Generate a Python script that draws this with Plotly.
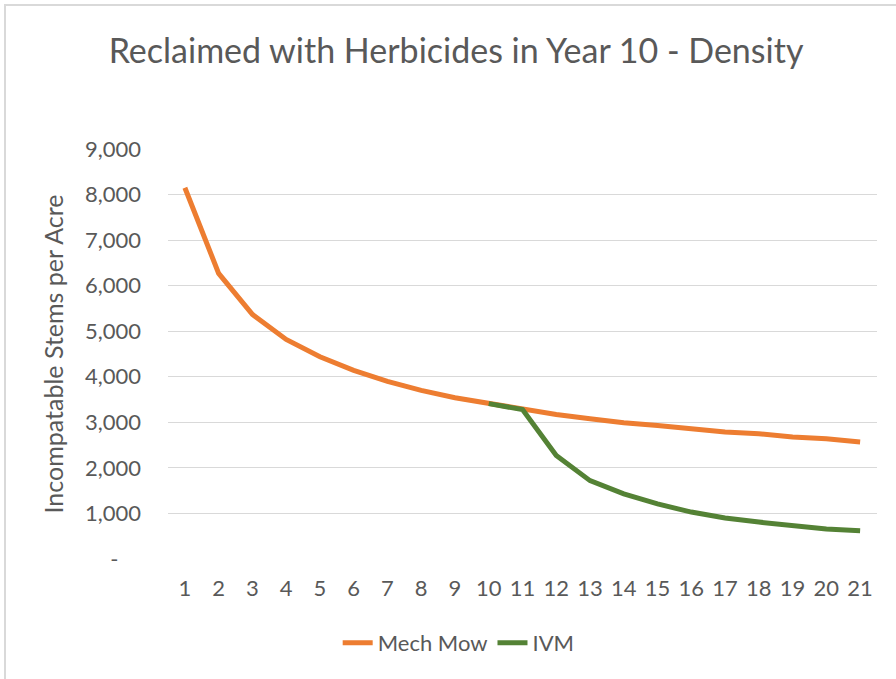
import plotly.graph_objects as go

years = list(range(1, 22))
mech_mow = [8150, 6270, 5370, 4820, 4440, 4140, 3900, 3700, 3540, 3410, 3280,
            3170, 3080, 2990, 2930, 2860, 2790, 2750, 2680, 2640, 2570]
ivm_years = list(range(10, 22))
ivm = [3410, 3280, 2270, 1720, 1430, 1210, 1030, 900, 810, 730, 660, 620]
y_ticks = [0, 1000, 2000, 3000, 4000, 5000, 6000, 7000, 8000, 9000]
y_tick_labels = ["-\u00a0\u00a0\u00a0\u00a0", "1,000", "2,000", "3,000", "4,000", "5,000",
                 "6,000", "7,000", "8,000", "9,000"]

FONT = "Lato"
GRAY = "#595959"

fig = go.Figure()
fig.add_trace(go.Scatter(x=years, y=mech_mow, mode="lines", name="Mech Mow",
                         line=dict(color="#ED7D31", width=5)))
fig.add_trace(go.Scatter(x=ivm_years, y=ivm, mode="lines", name="IVM",
                         line=dict(color="#548235", width=5)))

fig.update_layout(
    width=896, height=679,
    paper_bgcolor="white", plot_bgcolor="white",
    margin=dict(l=168, r=19, t=149, b=120, autoexpand=False),
    title=dict(text="Reclaimed with Herbicides in Year 10 - Density",
               x=0.509, xanchor="center", y=0.925, yanchor="middle",
               font=dict(family=FONT, size=34, color=GRAY)),
    font=dict(family=FONT, color=GRAY),
    showlegend=True,
    legend=dict(orientation="h", x=0.41, xanchor="center", y=-0.205, yanchor="middle",
                font=dict(family=FONT, size=22, color=GRAY)),
    xaxis=dict(range=[0.5, 21.5], tickmode="array", tickvals=years,
               ticktext=[str(y) for y in years], showgrid=False, zeroline=False,
               showline=False, ticks="", ticklabelstandoff=14,
               tickfont=dict(size=22, color=GRAY)),
    yaxis=dict(range=[0, 9000], tickmode="array", tickvals=y_ticks,
               ticktext=y_tick_labels, showgrid=True, gridcolor="#D9D9D9",
               gridwidth=1.3, zeroline=False, showline=False, ticks="",
               ticklabelstandoff=26,
               tickfont=dict(size=22, color=GRAY),
               title=dict(text="Incompatable Stems per Acre", standoff=14,
                          font=dict(family=FONT, size=25, color=GRAY))),
    shapes=[dict(type="rect", xref="paper", yref="paper", x0=-0.2299, x1=1.04, y0=-0.3, y1=1.351,
                 line=dict(color="#D9D9D9", width=2), layer="below")],
)

fig.write_html("out.html", config={"displayModeBar": False},
               post_script="document.body.style.margin='0';")
